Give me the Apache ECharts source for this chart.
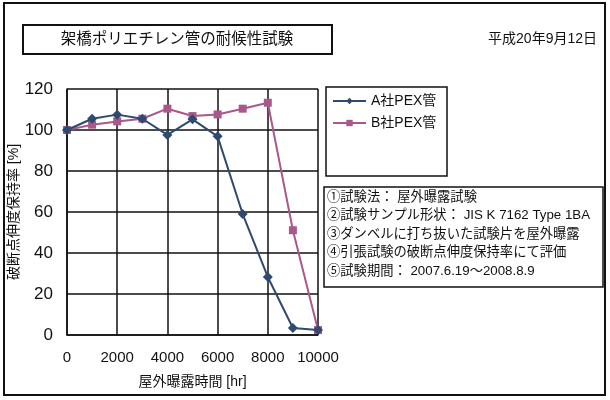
<!DOCTYPE html>
<html><head><meta charset="utf-8">
<script src="https://cdn.jsdelivr.net/npm/echarts@6/dist/echarts.min.js"></script>
<style>html,body{margin:0;padding:0;background:#fff}#c{width:610px;height:400px}</style>
</head><body><div id="c"></div>
<script>
const hours = [0,1000,2000,3000,4000,5000,6000,7000,8000,9000,10000];
const seriesNames = ['A社PEX管','B社PEX管'];
const valuesA = [100,105.5,107.5,105.5,97.6,105.2,96.9,59,28.3,3.4,2.4];
const valuesB = [100,102.6,104.2,105.5,110.4,106.8,107.6,110.4,113.3,51.1,2.4];
const titleText = '架橋ポリエチレン管の耐候性試験';
const dateText = '平成20年9月12日';
const notes = ['①試験法： 屋外曝露試験','②試験サンプル形状： JIS K 7162 Type 1BA','③ダンベルに打ち抜いた試験片を屋外曝露','④引張試験の破断点伸度保持率にて評価','⑤試験期間： 2007.6.19～2008.8.9'];
const xName = '屋外曝露時間 [hr]';
const yName = '破断点伸度保持率 [%]';

const FONT = '"Liberation Sans","Noto Sans CJK JP",sans-serif';
const colA = '#2f4a70', colB = '#a9588a';
const chart = echarts.init(document.getElementById('c'));
const g = [
  {type:'rect', shape:{x:4,y:3,width:601,height:392}, style:{fill:'none',stroke:'#111',lineWidth:2}, z:0},
  {type:'rect', shape:{x:23,y:25,width:309,height:29}, style:{fill:'#fff',stroke:'#111',lineWidth:2}},
  {type:'text', x:177, y:40, style:{text:titleText, font:'15.5px '+FONT, fill:'#111', align:'center', verticalAlign:'middle'}},
  {type:'text', x:597, y:39, style:{text:dateText, font:'14px '+FONT, fill:'#111', align:'right', verticalAlign:'middle'}},
  {type:'rect', shape:{x:326,y:87,width:121,height:89}, style:{fill:'#fff',stroke:'#111',lineWidth:1.5}, z:1},
  {type:'rect', shape:{x:324,y:187,width:279,height:100}, style:{fill:'#fff',stroke:'#111',lineWidth:1.5}}
];
notes.forEach((t,i)=>g.push({type:'text', x:327, y:197+i*18.5, style:{text:t, font:'13.3px '+FONT, fill:'#111', align:'left', verticalAlign:'middle'}}));

chart.setOption({
  animation:false,
  textStyle:{fontFamily:FONT},
  grid:{left:67,right:292,top:89,bottom:65},
  legend:{orient:'vertical', left:332, top:94, padding:0, itemWidth:33, itemHeight:8, itemGap:8, z:5,
    textStyle:{fontSize:14,color:'#111',fontFamily:FONT}, data:seriesNames},
  xAxis:{type:'value', min:0, max:10000, interval:2000,
    name:xName, nameLocation:'middle', nameGap:40, nameTextStyle:{fontSize:14,color:'#111'},
    axisLine:{lineStyle:{color:'#111',width:1.5}}, axisTick:{show:false},
    axisLabel:{color:'#111',fontSize:15,margin:15,formatter:v=>String(v)},
    splitLine:{show:true,lineStyle:{color:'#111',width:1.5}}},
  yAxis:{type:'value', min:0, max:120, interval:20,
    name:yName, nameLocation:'middle', nameGap:45, nameRotate:90, nameTextStyle:{fontSize:14,color:'#111'},
    axisLine:{show:true,lineStyle:{color:'#111',width:1.5}}, axisTick:{show:false},
    axisLabel:{color:'#111',fontSize:17,margin:14},
    splitLine:{show:true,lineStyle:{color:'#111',width:1.5}}},
  graphic:g,
  series:[
    {name:seriesNames[0], type:'line', data:hours.map((h,i)=>[h,valuesA[i]]), symbol:'diamond', symbolSize:10,
      lineStyle:{color:colA,width:2}, itemStyle:{color:colA}, z:3},
    {name:seriesNames[1], type:'line', data:hours.map((h,i)=>[h,valuesB[i]]), symbol:'rect', symbolSize:8,
      lineStyle:{color:colB,width:2}, itemStyle:{color:colB}, z:2}
  ]
});
</script></body></html>
